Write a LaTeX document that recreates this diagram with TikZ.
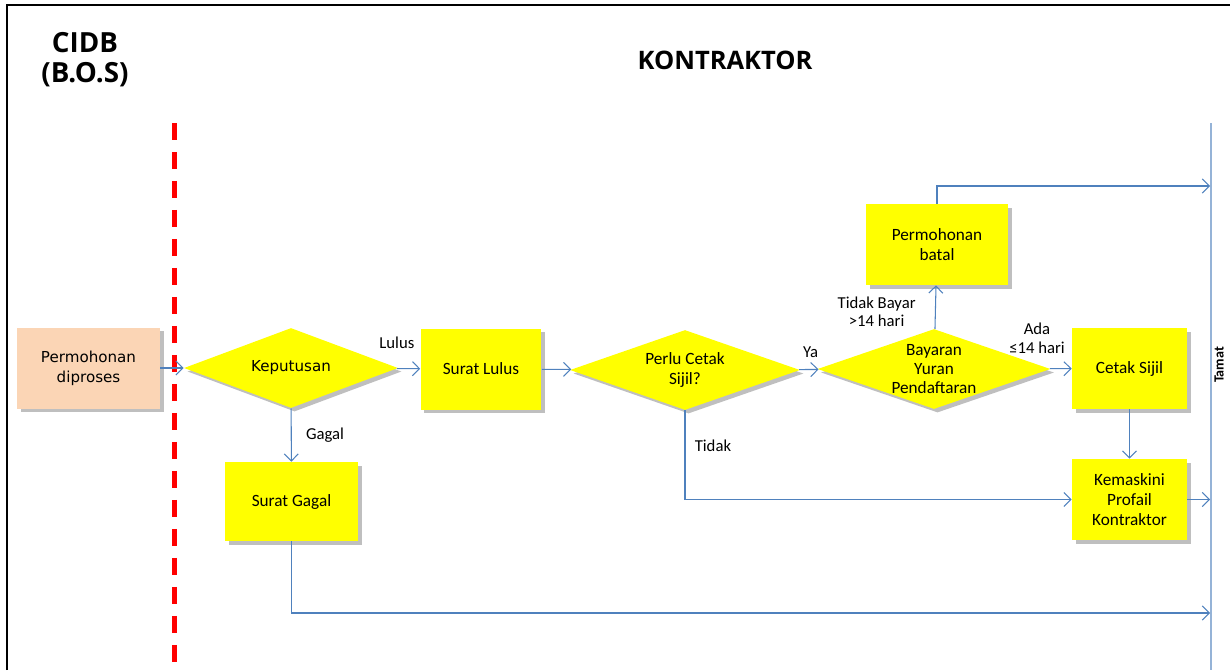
\documentclass[tikz,border=0pt]{standalone}
\usepackage{fontspec}
\setmainfont{Carlito}
\newfontfamily\headfont{Open Sans}
\newfontfamily\wideFont{DejaVu Sans}
\usetikzlibrary{shapes.geometric,arrows.meta,shadows,positioning}

\definecolor{flowBlue}{RGB}{79,129,189}
\definecolor{tamatBlue}{RGB}{149,179,215}
\definecolor{peach}{RGB}{251,213,181}
\definecolor{boxYellow}{RGB}{255,255,0}

\begin{document}
\begin{tikzpicture}[
    x=0.02cm, y=-0.02cm,
    boxShadow/.style={drop shadow={shadow xshift=2pt, shadow yshift=-2pt, opacity=0.25, fill=black}},
    procBox/.style={
        rectangle, fill=boxYellow, boxShadow,
        inner sep=2pt, align=center, font=\fontsize{9.8}{11.2}\selectfont,
        minimum height=1.62cm
    },
    startBox/.style={procBox, fill=peach, font=\wideFont\fontsize{8.6}{11.5}\selectfont},
    decision/.style={
        diamond, fill=boxYellow, boxShadow, aspect=2.9,
        inner sep=-1pt, align=center, font=\fontsize{9.8}{11}\selectfont,
        minimum height=1.6cm
    },
    flow/.style={draw=flowBlue, line width=0.6pt, -{Straight Barb[length=4pt,width=8pt]}},
    lbl/.style={font=\fontsize{9.5}{10.5}\selectfont, inner sep=1pt, align=center},
    headText/.style={font=\headfont\bfseries\fontsize{14.5}{17}\selectfont, align=center},
    divider/.style={draw=red, line width=0.1cm, dash pattern=on 0.34cm off 0.24cm}
]
    \useasboundingbox (0,0) rectangle (1230,670);

    % --- frame and lanes ---
    \draw[line width=1.4pt] (7,670) -- (7,5) -- (1230,5);
    \node[headText, font=\headfont\bfseries\fontsize{15.8}{17}\selectfont] (cidb) at (85,60) {CIDB\\(B.O.S)};
    \node[headText] (kontraktor) at (725,60) {KONTRAKTOR};
    \draw[divider] (174,123) -- (174,670);

    % --- end line ---
    \coordinate (tamatTop) at (1211,123);
    \coordinate (tamatBot) at (1211,670);
    \draw[draw=tamatBlue, line width=1.2pt] (tamatTop) -- (tamatBot);
    \node[rotate=90, font=\bfseries\fontsize{8}{9}\selectfont, inner sep=0pt] (tamat) at (1219,365) {Tamat};
    \coordinate (batalEnd) at (1210,186);
    \coordinate (gagalEnd) at (1210,613);

    % --- nodes ---
    \node[startBox, minimum width=2.86cm] (start) at (88.5,368) {Permohonan\\diproses};
    \node[decision, minimum width=4.28cm, font=\wideFont\fontsize{8.6}{11}\selectfont] (keput) at (291,368) {Keputusan};
    \node[procBox, minimum width=2.42cm] (lulus) at (481,369) {Surat Lulus};
    \node[procBox, minimum width=2.66cm, minimum height=1.58cm] (gagal) at (291.5,501.5) {Surat Gagal};
    \node[decision, minimum width=4.6cm] (cetakQ) at (685,370) {Perlu Cetak\\Sijil?};
    \node[decision, minimum width=4.66cm] (bayar) at (934,369) {Bayaran\\Yuran\\Pendaftaran};
    \node[procBox, minimum width=2.84cm] (batal) at (937,244.5) {Permohonan\\batal};
    \node[procBox, minimum width=2.3cm] (sijil) at (1129.5,368.5) {Cetak Sijil};
    \node[procBox, minimum width=2.3cm] (kemas) at (1129.5,499.5) {Kemaskini\\Profail\\Kontraktor};

    % --- connectors ---
    \draw[flow] (start) -- (keput);
    \draw[flow] (keput) -- node[lbl, pos=0, above=0.35cm] {Lulus} (lulus);
    \draw[flow] (keput) -- node[lbl, right=0.25cm] {Gagal} (gagal);
    \draw[flow] (lulus) -- (cetakQ);
    \draw[flow] (cetakQ) -- node[lbl, pos=0.6, above=0.2cm] {Ya} (bayar);
    \draw[flow] (cetakQ.south) |- node[lbl, pos=0.2, right=0.15cm] {Tidak} (kemas.west);
    \draw[flow] (bayar) -- node[lbl, pos=0.4, left=0.35cm] {Tidak Bayar\\>14 hari} (batal);
    \draw[flow] (bayar) -- node[lbl, pos=0, above=0.26cm, xshift=-0.26cm] {Ada\\≤14 hari} (sijil);
    \draw[flow] (sijil) -- (kemas);
    \draw[flow] (kemas) -- (kemas.east -| batalEnd);
    \draw[flow] (batal.north) |- (batalEnd);
    \draw[flow] (gagal.south) |- (gagalEnd);
\end{tikzpicture}
\end{document}
